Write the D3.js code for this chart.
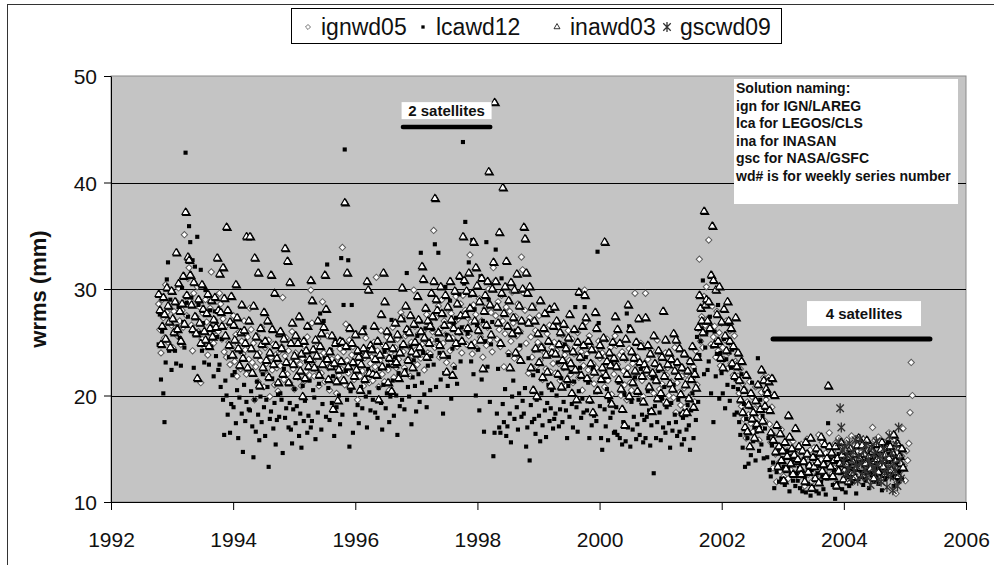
<!DOCTYPE html>
<html>
<head>
<meta charset="utf-8">
<script src="https://cdn.jsdelivr.net/npm/d3@7"></script>
<style>
  body { margin: 0; background: #fff; }
  text { font-family: Arial, "Liberation Sans", sans-serif; }
</style>
</head>
<body>
<svg id="chart"></svg>
<script>
/* global d3 */

// ---- data: weekly wrms values (mm), one value per week from the start date
const WEEK = 1 / 52.18;
const xTicks = [1992, 1994, 1996, 1998, 2000, 2002, 2004, 2006];
const yTicks = [10, 20, 30, 40, 50];
const gridValues = [20, 30, 40];
const seriesNames = ['ignwd05', 'lcawd12', 'inawd03', 'gscwd09'];
const noteLines = ['Solution naming:', 'ign for IGN/LAREG', 'lca for LEGOS/CLS', 'ina for INASAN',
  'gsc for NASA/GSFC', 'wd# is for weekly series number'];
const periods = [
  {label: '2 satellites', from: 1996.78, to: 1998.21},
  {label: '4 satellites', from: 2002.84, to: 2005.41},
];

const ignStart = 1992.78;
const ignwd05 = [
  28.6, 26.2, 24.0, 29.0, 27.3, 25.4, 30.4, 27.8, 25.0, 28.3, 29.9, 26.6, 24.5, 27.9, 26.1, 28.8, 25.6, 30.1, 27.0, 24.8, 28.0, 26.4, 35.1, 29.3, 27.5, 31.0,
  32.0, 28.9, 26.6, 24.2, 29.6, 25.8, 27.4, 30.2, 26.0, 28.3, 21.2, 25.3, 27.7, 24.6, 29.0, 26.9, 23.8, 25.9, 28.2, 31.6, 26.3, 24.9, 27.1, 25.6, 29.4, 26.0,
  29.6, 28.6, 25.3, 27.2, 24.1, 26.5, 23.6, 28.0, 25.0, 22.9, 26.8, 24.4, 27.5, 23.2, 25.7, 21.8, 24.8, 26.0, 22.5, 25.1, 23.9, 27.0, 24.3, 22.0, 25.5, 23.4,
  28.2, 26.2, 23.1, 24.9, 19.6, 22.7, 25.6, 21.3, 24.0, 23.3, 26.4, 22.2, 20.8, 24.5, 23.0, 21.9, 25.2, 19.9, 23.6, 22.4, 24.8, 21.0, 23.8, 22.6, 20.4, 24.1,
  22.8, 24.6, 29.2, 21.5, 23.7, 25.4, 22.0, 24.2, 21.2, 23.1, 26.0, 22.5, 20.6, 24.0, 23.3, 21.7, 25.1, 22.9, 20.9, 23.5, 24.7, 21.4, 22.3, 25.5, 23.0, 21.9,
  29.9, 26.8, 23.2, 21.8, 24.5, 22.4, 25.3, 20.9, 23.7, 22.1, 28.8, 24.0, 21.3, 23.0, 25.6, 22.6, 20.5, 24.2, 23.4, 21.7, 22.8, 25.0, 20.2, 23.6, 21.9, 24.4,
  22.5, 33.9, 24.1, 21.0, 26.7, 23.3, 22.1, 25.2, 20.6, 23.8, 24.6, 21.5, 22.9, 25.8, 19.6, 23.1, 21.8, 24.0, 22.3, 20.9, 23.5, 25.4, 22.0, 24.3, 21.2, 23.0,
  23.6, 21.4, 25.0, 22.7, 31.1, 24.2, 20.8, 23.3, 26.1, 22.0, 24.7, 21.3, 23.9, 25.5, 22.4, 20.5, 24.0, 23.1, 26.4, 21.7, 24.5, 22.6, 25.3, 23.4, 21.9, 27.8,
  27.4, 24.1, 22.6, 25.6, 23.3, 26.2, 24.6, 21.8, 25.0, 23.7, 29.9, 26.5, 24.3, 22.9, 25.8, 27.0, 23.5, 24.8, 26.0, 22.4, 25.3, 27.6, 24.0, 26.8, 23.9, 25.2,
  26.0, 35.5, 24.5, 27.3, 25.1, 28.4, 23.6, 26.3, 29.0, 24.9, 27.0, 25.7, 23.1, 28.1, 26.6, 24.2, 27.7, 25.4, 22.8, 26.9, 29.3, 24.6, 27.2, 25.9, 28.6, 24.0,
  29.4, 26.3, 28.0, 24.8, 27.3, 25.6, 33.2, 26.9, 23.9, 28.5, 25.0, 27.6, 24.4, 26.1, 29.1, 25.5, 27.0, 23.6, 26.6, 28.2, 24.7, 26.4, 30.0, 25.2, 27.8, 24.1,
  32.0, 30.7, 27.5, 25.3, 28.8, 26.2, 24.6, 29.4, 27.0, 22.7, 25.8, 28.3, 26.5, 24.0, 27.9, 25.1, 29.7, 26.8, 23.5, 27.4, 25.6, 28.6, 24.4, 26.0, 33.0, 31.8,
  29.6, 28.0, 24.9, 26.8, 22.1, 27.3, 25.5, 23.6, 28.4, 24.3, 26.1, 22.8, 25.0, 27.5, 23.3, 24.7, 21.5, 26.3, 24.0, 22.5, 25.8, 23.9, 26.6, 22.2, 24.5, 23.0,
  25.0, 22.1, 24.2, 26.4, 23.0, 21.4, 24.8, 25.7, 22.6, 23.8, 20.9, 24.5, 26.1, 23.3, 22.0, 25.3, 21.2, 23.9, 24.6, 22.3, 25.9, 21.7, 23.4, 24.1, 20.5, 22.8,
  29.9, 26.9, 23.9, 22.4, 25.6, 24.7, 21.9, 23.0, 21.1, 24.3, 22.6, 20.4, 25.1, 23.5, 21.6, 24.0, 22.2, 20.8, 23.7, 25.3, 21.4, 22.9, 24.5, 20.1, 23.2, 22.0,
  25.6, 24.7, 22.9, 21.5, 23.8, 20.0, 24.1, 22.3, 21.0, 23.4, 19.6, 22.6, 24.4, 21.2, 20.5, 23.0, 22.0, 29.6, 21.7, 23.6, 20.3, 22.8, 24.9, 21.4, 19.9, 22.4,
  29.6, 22.1, 23.4, 20.9, 21.8, 24.3, 22.7, 20.2, 23.0, 21.5, 25.2, 22.9, 20.6, 23.7, 21.1, 22.4, 19.4, 24.0, 21.9, 22.6, 20.0, 23.2, 21.3, 22.8, 19.8, 24.5,
  18.4, 21.2, 22.9, 20.3, 19.1, 21.8, 22.5, 20.7, 18.9, 22.0, 21.4, 19.7, 23.3, 20.1, 21.6, 22.7, 19.4, 24.2, 21.0, 26.3, 32.8, 25.1, 27.4, 24.5, 29.3, 26.6,
  30.2, 27.2, 34.6, 26.3, 24.8, 28.4, 25.5, 26.5, 23.6, 27.9, 24.2, 25.9, 22.8, 26.8, 24.5, 23.4, 25.2, 27.0, 22.5, 24.0, 26.1, 23.0, 24.7, 21.9, 25.6, 23.2,
  23.0, 21.8, 20.2, 22.5, 19.0, 21.1, 17.8, 20.5, 16.0, 19.4, 18.2, 21.3, 17.4, 19.9, 16.6, 18.7, 20.8, 17.1, 19.2, 15.8, 18.0, 20.3, 16.9, 21.7, 17.6, 19.6,
  20.3, 21.7, 17.3, 15.6, 18.9, 13.2, 16.2, 14.5, 11.9, 15.1, 13.7, 12.9, 16.8, 14.0, 12.4, 15.5, 13.4, 14.8, 12.2, 16.1, 13.0, 14.3, 15.7, 12.7, 13.9, 15.0,
  13.6, 12.3, 14.7, 15.4, 12.9, 13.8, 11.5, 14.2, 15.9, 12.6, 13.1, 14.9, 11.9, 13.5, 15.1, 12.4, 14.4, 13.0, 16.3, 12.0, 14.0, 15.6, 13.3, 12.8, 14.6, 13.9,
  15.2, 16.5, 13.9, 12.6, 14.8, 13.2, 15.5, 11.8, 14.1, 16.0, 12.9, 13.6, 15.0, 14.3, 12.2, 13.8, 15.8, 12.7, 14.5, 13.4, 16.2, 12.4, 14.0, 15.3, 13.1, 14.7,
  15.2, 13.3, 14.6, 12.8, 15.9, 13.7, 12.2, 14.9, 13.9, 12.5, 15.4, 14.2, 17.0, 13.1, 15.8, 12.9, 14.4, 16.1, 13.6, 11.9, 14.8, 13.0, 15.6, 12.6, 14.1, 13.5,
  16.5, 15.2, 14.1, 13.2, 15.8, 12.2, 10.8, 14.6, 13.7, 15.0, 12.9, 14.3, 16.9, 13.4, 12.0, 14.8, 13.9, 15.5, 18.4, 23.1, 20.0,
];

const lcaStart = 1992.78;
const lcawd12 = [
  24.8, 27.6, 21.5, 26.0, 20.2, 17.5, 23.1, 30.9, 32.5, 24.2, 29.0, 22.4, 25.8, 27.1, 24.2, 23.0, 26.5, 28.3, 25.4, 22.8, 30.1, 26.9, 24.5, 42.8, 28.7, 27.4,
  35.9, 34.4, 29.2, 32.7, 22.6, 32.1, 27.3, 34.9, 28.5, 25.9, 31.8, 24.2, 26.8, 23.1, 29.9, 27.6, 25.1, 22.9, 28.0, 24.6, 26.3, 21.8, 27.9, 23.7, 25.5, 22.4,
  22.9, 20.8, 25.3, 19.6, 16.3, 21.4, 20.0, 18.2, 23.6, 16.5, 19.2, 21.9, 18.9, 22.2, 17.4, 20.5, 16.0, 19.8, 24.1, 18.3, 14.7, 21.0, 17.6, 19.4, 22.5, 18.7,
  18.6, 20.4, 17.1, 14.2, 19.6, 16.6, 21.3, 18.2, 15.8, 19.9, 17.5, 22.0, 18.9, 16.2, 19.6, 20.8, 13.3, 17.8, 18.5, 21.6, 16.9, 19.3, 15.4, 17.7, 20.1, 18.0,
  20.2, 19.6, 14.6, 22.5, 17.9, 18.8, 21.1, 17.0, 19.3, 16.8, 15.5, 18.7, 20.6, 17.4, 19.0, 22.0, 16.2, 18.3, 15.1, 20.9, 17.6, 19.5, 23.2, 16.5, 18.1, 21.4,
  17.0, 17.6, 20.5, 19.8, 15.9, 22.6, 18.4, 21.1, 27.7, 16.8, 19.2, 27.0, 23.5, 18.0, 32.3, 20.7, 17.7, 24.3, 19.3, 21.8, 16.2, 25.1, 18.9, 22.2, 20.0, 17.3,
  32.9, 18.2, 28.5, 43.1, 22.3, 19.6, 32.7, 15.2, 20.4, 28.5, 16.5, 21.7, 18.2, 24.0, 19.1, 17.4, 23.6, 20.8, 18.8, 21.4, 26.4, 19.9, 17.0, 22.5, 20.3, 18.6,
  21.9, 19.6, 26.4, 18.4, 23.2, 17.9, 20.7, 22.5, 19.3, 16.8, 21.0, 24.1, 18.8, 20.2, 22.8, 17.5, 19.9, 27.1, 21.4, 18.1, 23.6, 20.0, 16.3, 22.1, 19.0, 24.6,
  19.6, 27.1, 18.7, 22.4, 31.5, 20.8, 19.9, 24.6, 17.3, 21.7, 23.3, 20.9, 18.5, 25.6, 22.0, 19.4, 33.4, 21.2, 24.0, 20.1, 26.3, 18.9, 22.8, 25.1, 20.5, 23.7,
  26.2, 22.9, 34.2, 20.8, 25.2, 33.4, 24.0, 21.5, 27.8, 18.3, 22.1, 30.2, 25.7, 20.9, 23.6, 28.9, 19.7, 24.4, 26.8, 22.6, 27.3, 21.1, 25.0, 29.5, 23.2, 26.4,
  43.8, 30.5, 36.3, 27.7, 25.8, 32.5, 29.4, 23.2, 34.6, 22.0, 28.1, 20.0, 26.6, 24.3, 18.6, 31.2, 21.5, 27.0, 16.6, 25.1, 34.4, 22.7, 29.0, 19.4, 24.8, 26.9,
  14.3, 16.5, 33.7, 18.3, 22.5, 17.0, 16.5, 31.0, 19.2, 17.5, 20.6, 16.2, 17.1, 23.8, 18.3, 15.6, 19.9, 21.4, 17.8, 26.1, 18.9, 16.8, 20.2, 24.7, 18.0, 19.5,
  18.3, 20.7, 15.2, 17.0, 23.5, 13.9, 19.1, 17.5, 21.9, 17.8, 16.4, 19.6, 22.3, 18.1, 15.7, 20.2, 17.2, 24.4, 18.6, 16.1, 19.3, 21.0, 17.6, 18.8, 20.5, 16.9,
  17.8, 18.3, 20.0, 23.1, 17.1, 18.7, 21.6, 17.5, 19.4, 24.8, 18.6, 16.0, 20.9, 18.0, 22.2, 19.2, 17.0, 21.3, 28.3, 18.9, 16.6, 20.4, 22.6, 17.9, 19.7, 18.4,
  28.3, 23.6, 18.6, 21.2, 16.0, 19.4, 17.2, 22.5, 18.1, 20.3, 17.6, 33.5, 26.8, 19.0, 16.0, 14.9, 21.8, 18.7, 17.1, 20.6, 15.8, 19.5, 17.9, 23.0, 18.4, 16.5,
  16.6, 18.9, 16.3, 21.2, 16.0, 18.6, 15.4, 17.5, 20.1, 15.7, 27.7, 17.0, 26.5, 15.2, 19.4, 16.8, 18.0, 21.7, 15.9, 17.3, 19.6, 16.3, 22.5, 18.2, 15.6, 17.7,
  16.0, 18.0, 20.4, 18.6, 15.3, 17.2, 21.6, 12.7, 19.0, 16.0, 17.5, 22.3, 18.4, 15.8, 19.7, 17.0, 20.8, 16.5, 18.9, 23.1, 17.4, 15.1, 19.3, 16.7, 21.0, 18.2,
  17.5, 16.2, 19.6, 16.6, 18.3, 15.4, 17.9, 15.9, 21.0, 16.8, 19.1, 17.2, 14.9, 18.6, 20.2, 16.0, 22.4, 17.7, 25.5, 19.4, 23.8, 25.1, 26.3, 30.8, 22.0, 24.5,
  25.9, 22.4, 23.2, 27.4, 20.2, 24.6, 17.5, 26.0, 21.8, 23.9, 28.5, 19.7, 24.0, 22.1, 20.2, 25.3, 18.8, 23.4, 21.0, 26.7, 19.5, 22.6, 24.3, 20.8, 18.2, 21.5,
  18.4, 20.6, 17.5, 16.3, 22.0, 15.1, 19.2, 13.3, 17.8, 16.0, 13.6, 18.9, 14.4, 21.2, 15.7, 17.0, 13.9, 16.6, 23.5, 14.8, 19.6, 15.4, 18.1, 14.1, 16.9, 20.0,
  14.2, 16.0, 13.0, 12.4, 15.3, 13.7, 11.3, 14.6, 12.8, 13.5, 11.9, 15.0, 12.2, 14.1, 13.3, 11.6, 12.9, 14.8, 13.1, 11.0, 12.6, 14.3, 12.0, 13.8, 11.5, 12.7,
  12.0, 13.2, 11.3, 12.6, 11.0, 14.0, 12.3, 10.9, 13.5, 11.7, 12.8, 10.6, 13.0, 11.4, 12.1, 14.3, 11.0, 12.7, 10.8, 13.4, 11.9, 12.4, 11.2, 13.7, 10.7, 12.2,
  17.4, 13.3, 12.4, 14.0, 11.6, 13.0, 10.3, 12.8, 11.8, 14.5, 12.7, 13.6, 11.2, 12.2, 13.9, 10.9, 12.5, 13.4, 11.5, 12.9, 14.2, 11.9, 13.1, 12.4, 10.8, 13.7,
  12.2, 13.1, 14.4, 12.7, 11.6, 13.5, 12.0, 14.0, 12.9, 11.3, 13.8, 12.5, 14.7, 11.9, 13.2, 12.4, 14.1, 11.7, 13.6, 12.8, 11.1, 15.2, 13.3, 12.1, 14.5, 15.6,
  15.6, 14.5, 13.1, 12.3, 11.5, 14.0, 12.7, 13.6, 11.9, 12.9, 14.3, 12.2, 13.4,
];

const inaStart = 1992.78;
const inawd03 = [
  29.5, 28.0, 24.8, 26.5, 29.2, 27.6, 25.3, 30.1, 28.4, 26.9, 24.5, 29.8, 27.2, 25.9, 28.8, 33.4, 26.2, 30.5, 27.9, 25.1, 28.6, 31.2, 26.7, 37.2, 29.4, 33.0,
  32.7, 31.3, 28.5, 26.2, 30.6, 27.4, 25.8, 21.6, 29.0, 26.8, 24.9, 30.4, 28.1, 26.0, 25.2, 27.7, 29.5, 24.6, 26.3, 28.9, 25.5, 27.1, 29.2, 26.4, 32.9, 28.0,
  31.4, 27.8, 26.5, 32.0, 29.1, 25.6, 35.8, 28.0, 24.7, 26.9, 29.3, 23.8, 26.6, 25.2, 30.4, 27.3, 24.4, 22.8, 25.9, 28.5, 23.5, 26.1, 24.9, 34.9, 22.6, 27.0,
  34.9, 24.4, 22.1, 28.4, 32.9, 25.5, 23.8, 31.5, 20.9, 26.3, 24.8, 22.6, 27.8, 25.1, 23.3, 27.0, 21.7, 24.0, 31.3, 26.2, 22.9, 29.6, 24.7, 23.5, 21.2, 25.8,
  26.0, 24.4, 22.0, 25.3, 33.8, 23.1, 32.6, 21.2, 30.6, 24.9, 26.8, 22.9, 23.7, 25.6, 21.8, 24.9, 27.4, 22.3, 23.9, 19.9, 25.1, 21.6, 24.2, 26.5, 22.7, 23.4,
  30.8, 28.9, 24.3, 22.6, 25.2, 23.7, 27.0, 21.9, 24.6, 25.8, 22.9, 26.4, 31.3, 28.1, 23.4, 21.5, 24.1, 22.7, 25.6, 18.7, 23.0, 24.9, 21.3, 19.5, 22.4, 25.1,
  23.2, 25.0, 21.4, 38.1, 24.6, 31.5, 22.7, 26.3, 20.9, 24.9, 23.1, 21.8, 25.7, 22.4, 24.2, 23.6, 20.5, 22.9, 26.0, 24.4, 21.5, 23.8, 30.7, 29.9, 22.1, 24.7,
  24.3, 22.0, 26.5, 23.4, 21.9, 25.1, 19.6, 23.8, 27.6, 22.7, 31.5, 28.8, 24.6, 26.0, 21.2, 23.5, 25.3, 20.4, 24.4, 22.9, 26.8, 23.1, 25.7, 21.6, 24.0, 27.2,
  30.1, 24.8, 22.1, 28.4, 26.2, 23.3, 25.9, 27.5, 24.1, 22.6, 26.7, 25.0, 23.9, 29.3, 27.1, 24.5, 26.0, 32.1, 30.9, 25.4, 28.2, 23.6, 27.0, 24.9, 26.5, 29.6,
  27.4, 30.7, 38.5, 29.0, 28.0, 25.9, 24.7, 30.2, 27.7, 23.8, 26.6, 29.4, 22.2, 28.3, 25.4, 30.7, 27.1, 21.9, 26.3, 29.8, 24.9, 28.6, 26.0, 31.2, 27.5, 25.1,
  34.9, 30.8, 27.6, 29.8, 26.3, 31.5, 28.2, 24.7, 29.6, 34.4, 27.0, 32.0, 30.3, 26.1, 28.8, 25.2, 31.0, 22.5, 27.9, 29.4, 26.6, 30.7, 41.0, 28.5, 25.7, 30.0,
  32.5, 47.5, 30.7, 28.3, 26.8, 35.3, 24.9, 29.6, 39.5, 27.7, 30.2, 32.6, 26.5, 28.9, 22.6, 30.6, 25.8, 27.3, 29.9, 24.0, 31.4, 26.1, 28.4, 23.3, 27.0, 30.0,
  35.8, 34.7, 31.5, 29.6, 26.8, 30.2, 22.6, 28.3, 20.5, 27.0, 24.4, 19.9, 25.8, 23.1, 28.9, 24.5, 21.7, 26.3, 27.7, 23.8, 22.2, 25.1, 28.1, 20.9, 24.0, 26.5,
  28.3, 23.9, 27.0, 22.0, 24.8, 25.9, 20.8, 23.3, 26.7, 22.7, 24.4, 21.5, 25.4, 27.6, 23.0, 20.2, 24.1, 26.2, 22.4, 19.6, 25.0, 29.7, 23.6, 21.9, 26.5, 24.7,
  29.4, 27.3, 21.6, 25.1, 19.6, 23.0, 24.3, 18.4, 22.2, 27.8, 26.3, 20.5, 23.8, 24.7, 21.5, 22.6, 25.4, 34.4, 21.9, 23.2, 20.0, 24.0, 22.8, 19.2, 25.0, 23.5,
  27.4, 22.7, 26.2, 21.5, 24.9, 20.6, 18.7, 23.6, 17.2, 25.3, 22.0, 28.5, 19.9, 26.2, 24.1, 21.2, 23.5, 22.3, 25.0, 20.4, 27.2, 23.1, 24.6, 21.8, 19.4, 22.9,
  27.3, 22.4, 24.7, 20.8, 23.9, 18.5, 22.1, 25.6, 23.0, 21.4, 19.7, 24.2, 22.6, 20.2, 23.6, 27.9, 21.8, 25.2, 19.3, 22.9, 24.0, 21.1, 23.4, 20.6, 25.8, 22.3,
  25.2, 23.1, 21.8, 24.4, 20.1, 22.6, 18.3, 23.9, 21.0, 18.4, 22.3, 19.7, 23.2, 21.5, 24.6, 18.9, 22.0, 20.7, 23.6, 26.4, 29.4, 28.2, 27.0, 25.9, 37.3, 28.5,
  29.0, 27.0, 28.8, 26.3, 31.3, 35.9, 30.8, 24.8, 29.9, 27.6, 25.1, 30.2, 23.5, 26.9, 22.6, 28.1, 25.6, 24.2, 28.8, 27.0, 25.1, 26.3, 23.0, 24.6, 21.8, 27.3,
  22.7, 24.0, 21.4, 19.6, 23.2, 18.4, 20.5, 17.0, 21.9, 16.6, 19.1, 15.2, 20.2, 17.8, 18.4, 16.0, 19.5, 17.3, 21.0, 16.8, 18.7, 22.4, 17.6, 21.4, 19.0, 20.6,
  20.2, 21.3, 18.6, 16.5, 21.6, 15.8, 20.0, 14.7, 17.2, 13.3, 15.2, 16.4, 13.9, 14.8, 12.0, 15.6, 13.1, 14.3, 18.1, 16.1, 13.6, 15.0, 12.6, 14.4, 16.9, 13.8,
  14.0, 15.2, 13.1, 12.6, 14.8, 13.8, 11.9, 15.6, 14.5, 12.8, 13.4, 16.0, 11.3, 14.2, 13.3, 12.2, 15.0, 13.7, 11.8, 14.6, 16.1, 12.9, 13.5, 15.4, 12.4, 14.1,
  20.9, 15.2, 13.3, 14.6, 12.4, 13.9, 15.2, 11.5, 14.1, 12.9, 13.6, 15.6, 14.4, 12.1, 13.0, 14.8, 13.5, 11.9, 14.2, 15.0, 12.7, 13.8, 14.5, 12.3, 13.2, 15.3,
  16.0, 14.1, 13.2, 15.3, 12.5, 14.5, 13.6, 15.8, 12.9, 14.3, 13.1, 15.0, 14.7, 12.2, 13.8, 15.4, 14.0, 12.8, 13.5, 14.9, 15.6, 13.3, 12.6, 14.4, 13.9, 15.1,
  14.1, 15.2, 13.0, 14.6, 16.3, 12.8, 13.9, 15.5, 12.4, 14.3, 13.6, 15.0, 13.2,
];

const gscStart = 2003.92;
const gscwd09 = [
  15.6, 18.8, 17.0, 14.9, 13.8, 15.2, 12.6, 14.4, 13.1, 15.5, 12.2, 13.9, 14.7, 12.9, 15.8, 13.4, 12.0, 14.2, 15.9, 13.6,
  12.5, 14.8, 13.0, 15.3, 12.3, 14.0, 13.7, 11.6, 15.1, 13.2, 14.5, 12.8, 15.7, 13.5, 12.1, 14.3, 11.9, 13.8, 15.0, 12.7,
  14.1, 11.4, 13.3, 16.2, 12.4, 14.6, 11.1, 13.6, 12.9, 15.4, 11.5, 17.0, 14.0, 12.2,
];

//-------------------------------------------------

const WIDTH = 994;
const HEIGHT = 565;
const plot = {left: 111, right: 966, top: 76, bottom: 502};

const svg = d3.select('#chart')
  .attr('width', WIDTH)
  .attr('height', HEIGHT)
  .style('display', 'block');

svg.append('rect')
  .attr('width', WIDTH).attr('height', HEIGHT)
  .attr('fill', '#fff');

// outer chart border (right and bottom edges fall outside the picture)
svg.append('rect')
  .attr('x', 7.5).attr('y', 4.5)
  .attr('width', WIDTH + 10).attr('height', HEIGHT + 10)
  .attr('fill', 'none').attr('stroke', '#333');

const x = d3.scaleLinear().domain([1992, 2006]).range([plot.left, plot.right]);
const y = d3.scaleLinear().domain([10, 50]).range([plot.bottom, plot.top]);

svg.append('rect')
  .attr('x', plot.left).attr('y', plot.top)
  .attr('width', plot.right - plot.left).attr('height', plot.bottom - plot.top)
  .attr('fill', '#c4c4c4')
  .attr('stroke', '#8a8a8a');

svg.append('g')
  .selectAll('line')
  .data(gridValues)
  .join('line')
  .attr('x1', plot.left).attr('x2', plot.right)
  .attr('y1', d => Math.round(y(d)) + 0.5).attr('y2', d => Math.round(y(d)) + 0.5)
  .attr('stroke', '#000');

// axes
const xAxis = svg.append('g')
  .attr('transform', `translate(0,${plot.bottom})`)
  .call(d3.axisBottom(x).tickValues(xTicks).tickFormat(d3.format('d')).tickSize(8).tickSizeOuter(0));
const yAxis = svg.append('g')
  .attr('transform', `translate(${plot.left},0)`)
  .call(d3.axisLeft(y).tickValues(yTicks).tickSize(7).tickSizeOuter(0));

[xAxis, yAxis].forEach(axis => {
  axis.select('.domain').attr('stroke', '#000');
  axis.selectAll('.tick line').attr('stroke', '#000');
  axis.selectAll('.tick text')
    .attr('fill', '#111')
    .style('font-size', '21px')
    .style('font-family', 'Arial, "Liberation Sans", sans-serif');
});
xAxis.selectAll('.tick text').attr('dy', null).attr('y', 45);
yAxis.selectAll('.tick text').attr('x', -14).attr('dy', '0.36em');

svg.append('text')
  .attr('transform', `translate(46,${(plot.top + plot.bottom) / 2}) rotate(-90)`)
  .attr('text-anchor', 'middle')
  .style('font-size', '22px')
  .style('font-weight', 'bold')
  .attr('fill', '#111')
  .text('wrms (mm)');

//-------------------------------------------------
// markers

const weekly = (start, values) => values.map((v, i) => ({t: start + i * WEEK, v}));

const asteriskPath = (r) => {
  const p = d3.path();
  p.moveTo(0, -r); p.lineTo(0, r);
  p.moveTo(-r * 0.75, -r * 0.75); p.lineTo(r * 0.75, r * 0.75);
  p.moveTo(-r * 0.75, r * 0.75); p.lineTo(r * 0.75, -r * 0.75);
  return p.toString();
};

const triangle = d3.symbol(d3.symbolTriangle, 24)();

const markers = {
  ignwd05: g => g.append('path')
    .attr('d', d3.symbol(d3.symbolSquare, 20)())
    .attr('transform', 'rotate(45)')
    .attr('fill', '#fff').attr('stroke', '#5a5a5a').attr('stroke-width', 1),
  lcawd12: g => g.append('path')
    .attr('d', d3.symbol(d3.symbolSquare, 17)())
    .attr('fill', '#000'),
  inawd03: g => {
    // dark shadow under a white triangle, as the original markers look
    g.append('path')
      .attr('d', triangle)
      .attr('transform', 'translate(1,1)')
      .attr('fill', '#000').attr('stroke', '#000').attr('stroke-width', 1.2);
    g.append('path')
      .attr('d', triangle)
      .attr('fill', '#fff').attr('stroke', '#000').attr('stroke-width', 1.1)
      .attr('stroke-linejoin', 'round');
  },
  gscwd09: g => g.append('path')
    .attr('d', asteriskPath(5))
    .attr('fill', 'none').attr('stroke', '#303030').attr('stroke-width', 1.3),
};

const series = [
  {name: 'ignwd05', points: weekly(ignStart, ignwd05)},
  {name: 'lcawd12', points: weekly(lcaStart, lcawd12)},
  {name: 'inawd03', points: weekly(inaStart, inawd03)},
  {name: 'gscwd09', points: weekly(gscStart, gscwd09)},
];

series.forEach(s => {
  svg.append('g')
    .attr('class', `series ${s.name}`)
    .selectAll('g')
    .data(s.points)
    .join('g')
    .attr('transform', d => `translate(${x(d.t)},${y(d.v)})`)
    .each(function () { markers[s.name](d3.select(this)); });
});

//-------------------------------------------------
// annotations

const notes = svg.append('g');
notes.append('rect')
  .attr('x', 734).attr('y', 79).attr('width', 224).attr('height', 125)
  .attr('fill', '#fff');
notes.selectAll('text')
  .data(noteLines)
  .join('text')
  .attr('x', 736)
  .attr('y', (d, i) => 93 + i * 17.6)
  .style('font-size', '14px')
  .style('font-weight', 'bold')
  .attr('fill', '#111')
  .text(d => d);

const periodBoxes = [
  {w: 90, h: 17, dy: -25},
  {w: 114, h: 25, dy: -38},
];
const periodLevels = [45.2, 25.3];
periods.forEach((p, i) => {
  const g = svg.append('g');
  const ly = y(periodLevels[i]);
  const box = periodBoxes[i];
  const cx = i === 0 ? (x(p.from) + x(p.to)) / 2 : 864;
  g.append('rect')
    .attr('x', cx - box.w / 2).attr('y', ly + box.dy)
    .attr('width', box.w).attr('height', box.h)
    .attr('fill', '#fff');
  g.append('text')
    .attr('x', cx).attr('y', ly + box.dy + box.h / 2 + 5)
    .attr('text-anchor', 'middle')
    .style('font-size', '15px')
    .style('font-weight', 'bold')
    .attr('fill', '#111')
    .text(p.label);
  g.append('line')
    .attr('x1', x(p.from)).attr('x2', x(p.to))
    .attr('y1', ly).attr('y2', ly)
    .attr('stroke', '#000')
    .attr('stroke-width', i === 0 ? 4.5 : 5)
    .attr('stroke-linecap', 'round');
});

//-------------------------------------------------
// legend

const legend = svg.append('g');
legend.append('rect')
  .attr('x', 291.5).attr('y', 8.5).attr('width', 490).attr('height', 35)
  .attr('fill', '#fff').attr('stroke', '#000');
const legendPos = [308, 423, 557, 667];
seriesNames.forEach((name, i) => {
  const item = legend.append('g').attr('transform', `translate(${legendPos[i]},27)`);
  const m = item.append('g');
  if (name === 'inawd03') {
    m.append('path').attr('d', triangle)
      .attr('fill', '#fff').attr('stroke', '#000').attr('stroke-width', 1);
  } else {
    markers[name](m);
  }
  if (name !== 'gscwd09') m.attr('transform', 'scale(0.8)');
  item.append('text')
    .attr('x', 13).attr('y', 8)
    .style('font-size', '23px')
    .attr('fill', '#111')
    .text(name);
});
</script>
</body>
</html>
